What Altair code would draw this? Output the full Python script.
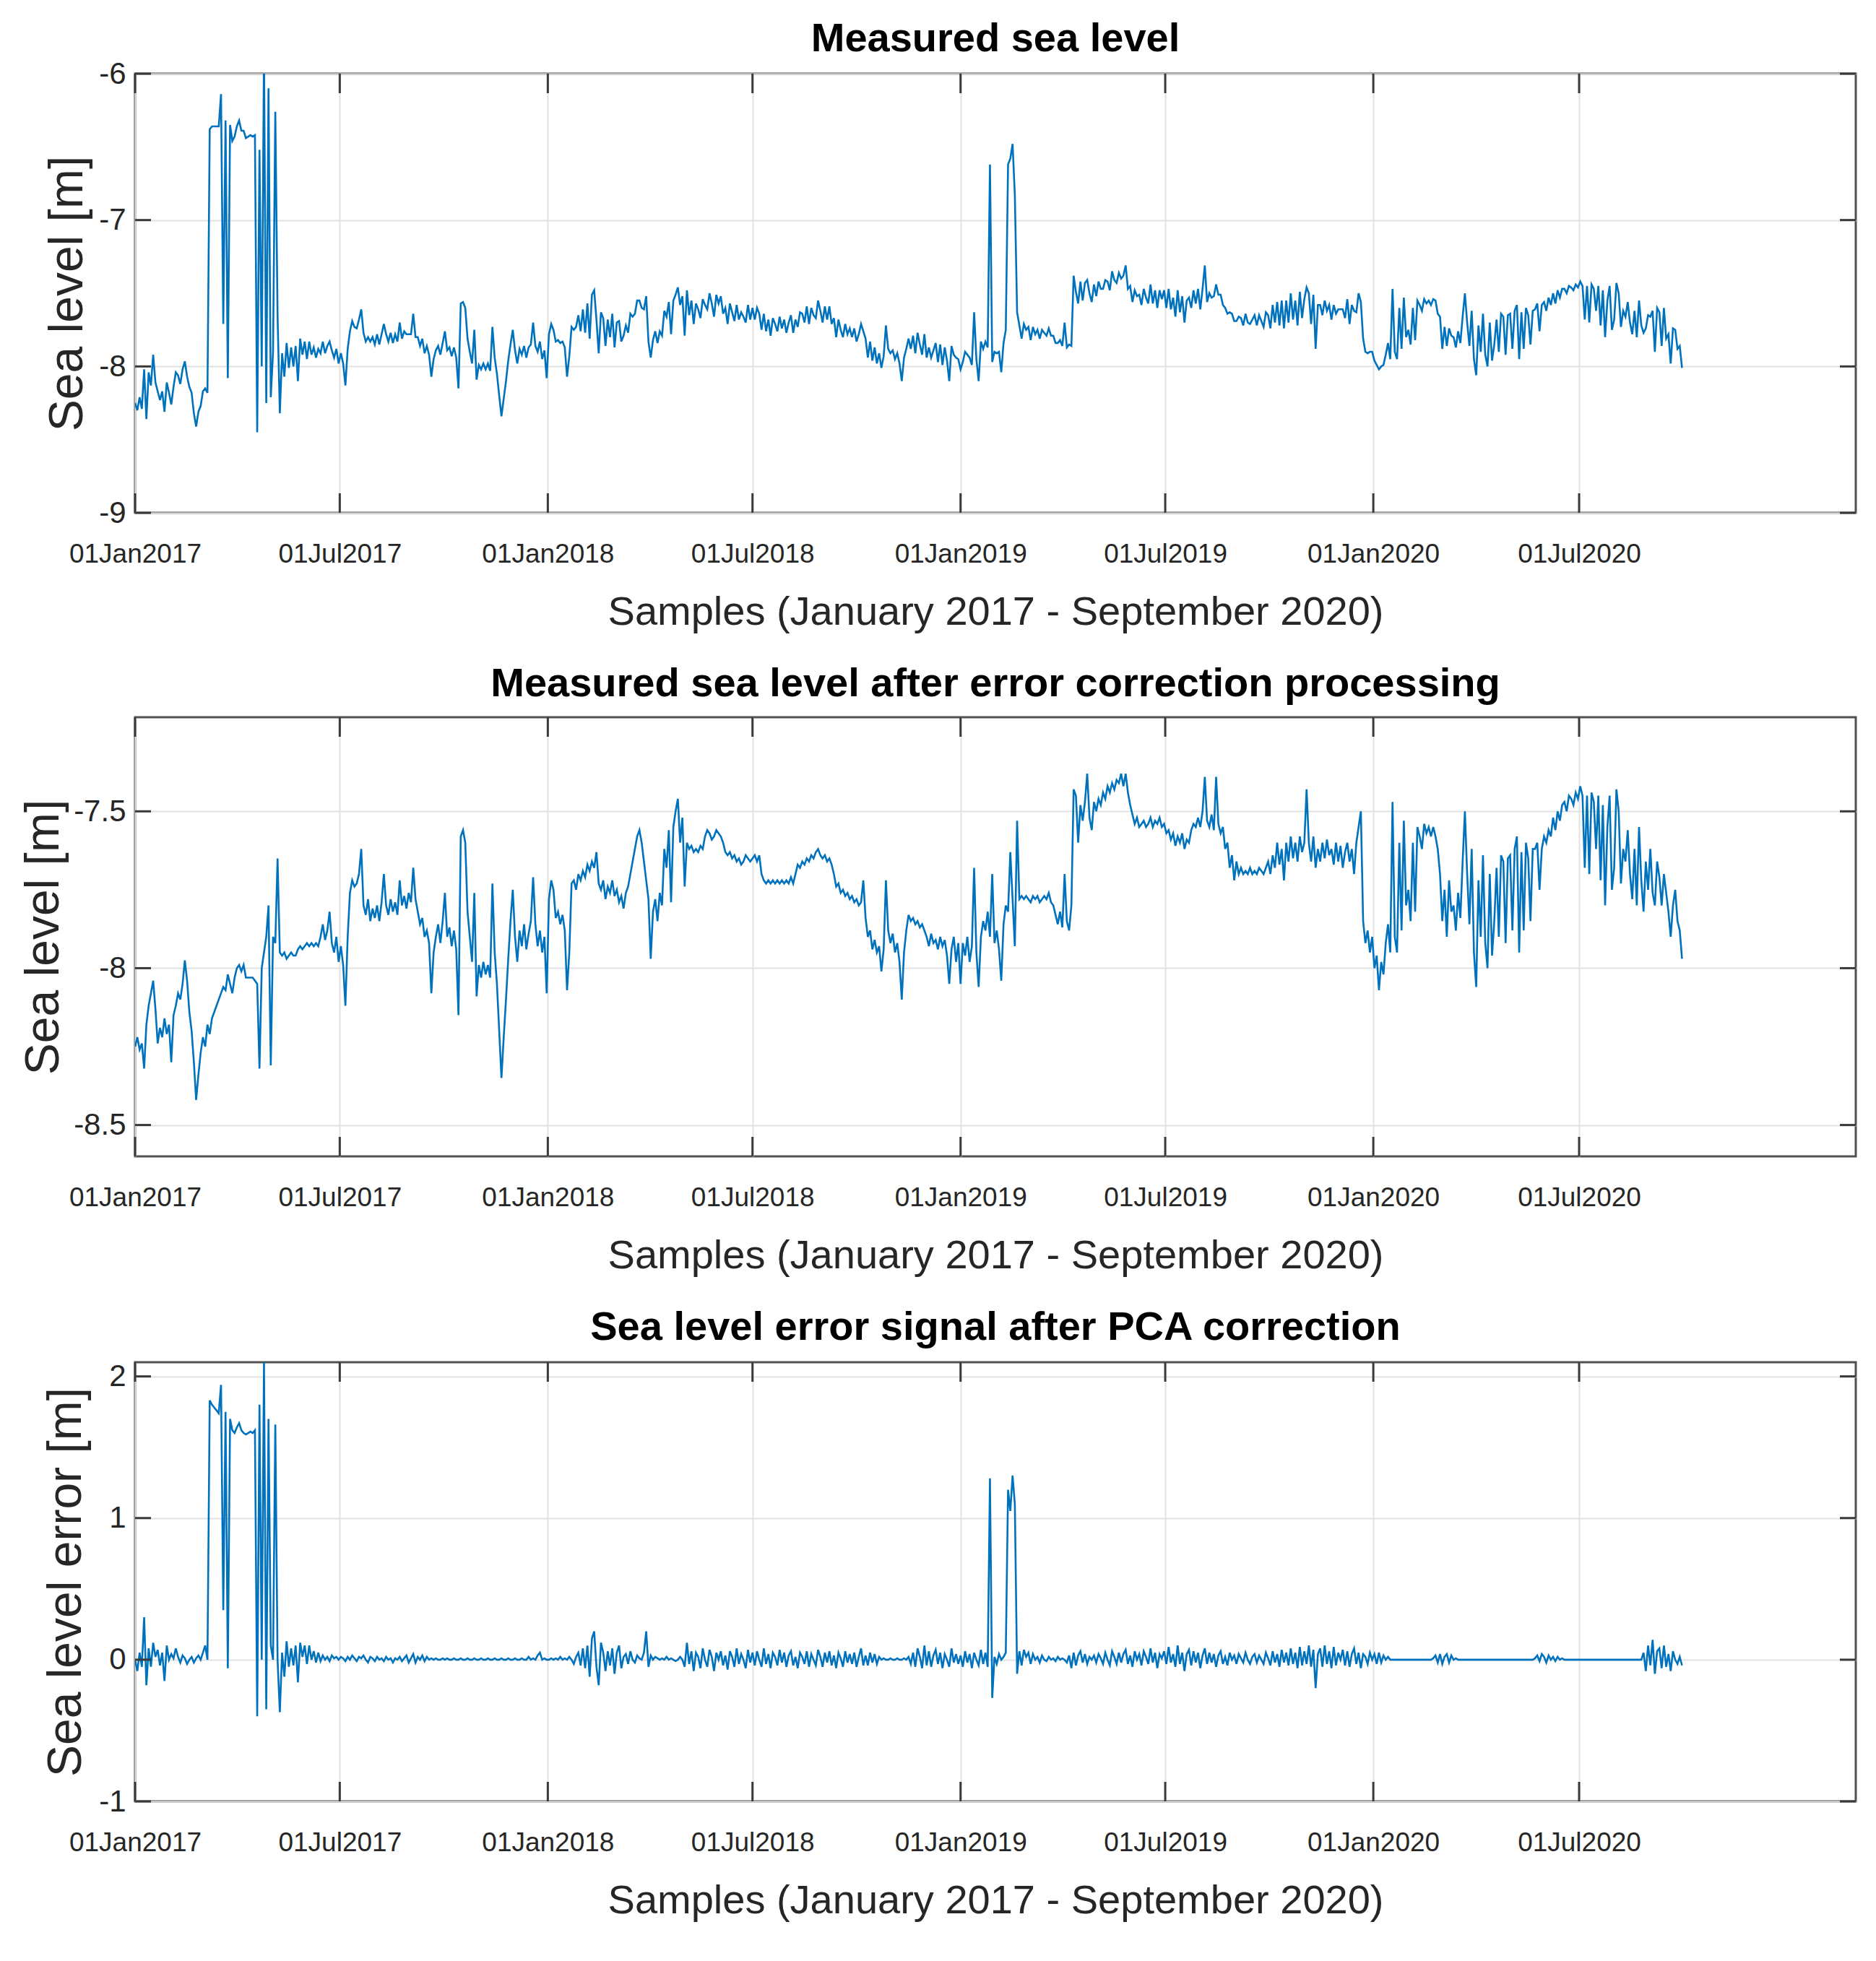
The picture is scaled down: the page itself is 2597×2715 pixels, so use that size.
import altair as alt
import pandas as pd

# Sea level record sampled every two days from 1 Jan 2017 to end of September 2020.
FIRST_DAY = "2017-01-01"
SAMPLE_STEP = "2D"

# Sea level after error correction processing [m]
corrected_2017 = [
    -8.25, -8.22, -8.26, -8.24, -8.32, -8.18, -8.12, -8.08, -8.04, -8.13,
    -8.24, -8.19, -8.22, -8.16, -8.21, -8.18, -8.30, -8.15, -8.12, -8.08,
    -8.10, -8.05, -7.975, -8.04, -8.14, -8.20, -8.30, -8.42, -8.34, -8.27,
    -8.22, -8.25, -8.18, -8.21, -8.16, -8.14, -8.12, -8.10, -8.08, -8.06,
    -8.07, -8.02, -8.05, -8.08, -8.03, -8.00, -7.99, -8.01, -7.99, -8.03,
    -8.03, -8.03, -8.03, -8.04, -8.05, -8.32, -8.00, -7.95, -7.90, -7.80,
    -8.31, -7.90, -7.92, -7.65, -7.95, -7.96, -7.95, -7.97, -7.96, -7.95,
    -7.96, -7.96, -7.94, -7.93, -7.94, -7.93, -7.92, -7.93, -7.92, -7.93,
    -7.92, -7.93, -7.90, -7.86, -7.91, -7.88, -7.82, -7.92, -7.95, -7.90,
    -7.98, -7.93, -7.99, -8.12, -7.90, -7.76, -7.72, -7.74, -7.73, -7.70,
    -7.62, -7.80, -7.83, -7.78, -7.85, -7.81, -7.84, -7.80, -7.85, -7.79,
    -7.70, -7.80, -7.83, -7.78, -7.82, -7.79, -7.83, -7.72, -7.80, -7.77,
    -7.81, -7.76, -7.79, -7.68, -7.78, -7.82, -7.86, -7.84, -7.90, -7.88,
    -7.92, -8.08, -7.95, -7.90, -7.86, -7.92, -7.85, -7.76, -7.90, -7.87,
    -7.93, -7.88, -7.94, -8.15, -7.58, -7.56, -7.60, -7.82, -7.90, -7.98,
    -7.76, -8.09, -7.99, -8.03, -7.98, -8.02, -7.99, -8.03, -7.73, -7.95,
    -8.05, -8.20, -8.35, -8.22, -8.10, -7.97, -7.85, -7.75, -7.90, -7.98,
    -7.88, -7.93, -7.86, -7.94, -7.89, -7.85, -7.71, -7.86, -7.93, -7.88,
    -7.95, -7.90, -8.08,
]
corrected_2018 = [
    -7.78, -7.72, -7.75, -7.84, -7.82, -7.86, -7.83, -7.88, -8.07, -7.95,
    -7.73, -7.72, -7.75, -7.70, -7.72, -7.69, -7.71, -7.67, -7.69, -7.66,
    -7.68, -7.63, -7.73, -7.75, -7.72, -7.78, -7.74, -7.76, -7.72, -7.77,
    -7.75, -7.79, -7.77, -7.81, -7.76, -7.74, -7.70, -7.66, -7.62, -7.58,
    -7.56, -7.60, -7.66, -7.72, -7.78, -7.97, -7.82, -7.78, -7.85, -7.76,
    -7.80, -7.62, -7.68, -7.56, -7.79, -7.55, -7.50, -7.46, -7.60, -7.52,
    -7.74, -7.60, -7.62, -7.61, -7.63, -7.62, -7.63, -7.61, -7.62, -7.58,
    -7.56, -7.57, -7.59, -7.58, -7.56, -7.57, -7.58, -7.60, -7.63, -7.64,
    -7.63, -7.65, -7.64, -7.66, -7.65, -7.67, -7.66, -7.64, -7.65, -7.66,
    -7.65, -7.64, -7.66, -7.64, -7.70, -7.72, -7.73, -7.72, -7.73, -7.72,
    -7.73, -7.72, -7.73, -7.72, -7.73, -7.72, -7.73, -7.71, -7.73, -7.70,
    -7.67, -7.68, -7.66, -7.67, -7.65, -7.66, -7.64, -7.65, -7.63, -7.62,
    -7.64, -7.65, -7.64, -7.66, -7.65, -7.67, -7.70, -7.74, -7.73, -7.76,
    -7.75, -7.77, -7.76, -7.78, -7.77, -7.79, -7.78, -7.80, -7.79, -7.72,
    -7.84, -7.90, -7.88, -7.94, -7.91, -7.95, -7.93, -8.01, -7.94, -7.72,
    -7.88, -7.92, -7.89, -7.95, -7.92, -7.98, -8.10, -7.95, -7.88, -7.83,
    -7.85, -7.84, -7.86, -7.85, -7.87, -7.86, -7.88, -7.90, -7.93, -7.89,
    -7.92, -7.91, -7.94, -7.90, -7.93, -7.91, -7.96, -8.05, -7.94, -7.90,
    -7.98, -7.92,
]
corrected_2019 = [
    -8.05, -7.92, -7.96, -7.90, -7.98, -7.93, -7.68, -7.95, -8.06, -7.90,
    -7.85, -7.88, -7.82, -7.90, -7.70, -7.92, -7.88, -7.94, -8.04, -7.86,
    -7.80, -7.82, -7.63, -7.78, -7.93, -7.53, -7.78, -7.77, -7.78, -7.77,
    -7.78, -7.79, -7.77, -7.78, -7.77, -7.79, -7.78, -7.77, -7.78, -7.76,
    -7.79, -7.80, -7.83, -7.86, -7.82, -7.87, -7.70, -7.85, -7.88, -7.80,
    -7.43, -7.45, -7.60, -7.48, -7.53, -7.47, -7.38, -7.52, -7.56, -7.47,
    -7.50, -7.46, -7.48, -7.44, -7.46, -7.42, -7.44, -7.41, -7.43, -7.40,
    -7.41, -7.38, -7.42, -7.38, -7.44, -7.48, -7.51, -7.54, -7.52, -7.55,
    -7.54, -7.53, -7.55, -7.54, -7.52, -7.55, -7.53, -7.54, -7.52, -7.55,
    -7.54, -7.57, -7.56, -7.59, -7.57, -7.61, -7.58, -7.60, -7.57, -7.62,
    -7.59, -7.60, -7.56, -7.54, -7.55, -7.52, -7.55, -7.50, -7.39, -7.53,
    -7.55, -7.51, -7.56, -7.39, -7.54, -7.57, -7.55, -7.62, -7.60, -7.68,
    -7.64, -7.72, -7.66, -7.70, -7.68, -7.70, -7.69, -7.70, -7.68, -7.70,
    -7.69, -7.70, -7.68, -7.69, -7.70, -7.68, -7.66, -7.70, -7.64, -7.68,
    -7.60, -7.67, -7.62, -7.72, -7.60, -7.66, -7.58, -7.65, -7.60, -7.66,
    -7.58, -7.63, -7.60, -7.43, -7.60, -7.66, -7.58, -7.68, -7.62, -7.66,
    -7.60, -7.65, -7.59, -7.64, -7.62, -7.67, -7.60, -7.66, -7.61, -7.68,
    -7.63, -7.60, -7.66, -7.62, -7.70, -7.60, -7.55, -7.50, -7.85, -7.92,
    -7.88, -7.95, -7.90,
]
corrected_2020 = [
    -8.00, -7.96, -8.07, -7.98, -8.02, -7.92, -7.86, -7.95, -7.47, -7.90,
    -7.95, -7.60, -7.88, -7.53, -7.80, -7.75, -7.85, -7.60, -7.82, -7.55,
    -7.58, -7.62, -7.54, -7.57, -7.55, -7.58, -7.55, -7.58, -7.62, -7.70,
    -7.85, -7.75, -7.90, -7.72, -7.82, -7.80, -7.88, -7.76, -7.84, -7.66,
    -7.50, -7.70, -7.86, -7.62, -7.95, -8.06, -7.72, -7.90, -7.64, -7.92,
    -8.00, -7.70, -7.96, -7.85, -7.68, -7.90, -7.64, -7.66, -7.92, -7.65,
    -7.64, -7.88, -7.62, -7.58, -7.95, -7.63, -7.88, -7.60, -7.65, -7.85,
    -7.62, -7.62, -7.60, -7.75, -7.62, -7.58, -7.60, -7.56, -7.58, -7.52,
    -7.56, -7.50, -7.53, -7.48, -7.47, -7.50, -7.45, -7.46, -7.48, -7.44,
    -7.46, -7.42, -7.45, -7.68, -7.45, -7.70, -7.44, -7.47, -7.62, -7.45,
    -7.72, -7.48, -7.80, -7.55, -7.45, -7.75, -7.68, -7.43, -7.50, -7.73,
    -7.62, -7.66, -7.56, -7.70, -7.78, -7.62, -7.80, -7.55, -7.72, -7.82,
    -7.66, -7.75, -7.62, -7.76, -7.80, -7.66, -7.71, -7.80, -7.70, -7.76,
    -7.82, -7.90, -7.80, -7.75, -7.85, -7.88, -7.97,
]

# Sea level error signal after PCA correction [m]
error_2017 = [
    0.00, -0.08, 0.05, -0.05, 0.30, -0.18, 0.08, -0.05, 0.12, 0.02,
    0.07, -0.04, 0.05, -0.15, 0.10, 0.00, 0.04, 0.01, 0.08, 0.02,
    -0.02, 0.03, 0.01, -0.03, 0.00, 0.02, -0.02, 0.01, 0.03, 0.00,
    0.05, 0.10, 0.00, 1.83, 1.80, 1.78, 1.76, 1.74, 1.94, 0.35,
    1.75, -0.06, 1.70, 1.62, 1.60, 1.64, 1.67, 1.62, 1.60, 1.59,
    1.60, 1.61, 1.60, 1.62, -0.40, 1.80, 0.00, 2.10, -0.35, 1.70,
    0.10, 0.00, 1.66, 0.00, -0.37, 0.05, -0.12, 0.13, -0.05, 0.08,
    -0.04, 0.10, -0.16, 0.12, 0.02, 0.10, -0.03, 0.10, 0.00, 0.06,
    -0.02, 0.05, -0.01, 0.03, 0.00, 0.02, -0.01, 0.03, 0.01, 0.02,
    0.00, 0.02, 0.01, -0.01, 0.02, 0.00, 0.03, 0.01, -0.01, 0.02,
    0.01, 0.03, 0.00, -0.02, 0.02, 0.01, -0.01, 0.02, 0.00, 0.01,
    -0.01, 0.02, 0.00, 0.01, -0.02, 0.01, 0.00, 0.02, -0.01, 0.01,
    0.03, -0.02, 0.01, 0.04, -0.02, 0.02, 0.00, 0.03, -0.01, 0.02,
    0.00, 0.01, 0.00, 0.01, 0.00, 0.00, 0.01, 0.00, 0.01, 0.00,
    0.00, 0.01, 0.00, 0.00, 0.01, 0.00, 0.00, 0.01, 0.00, 0.00,
    0.01, 0.00, 0.00, 0.01, 0.00, 0.00, 0.01, 0.00, 0.00, 0.01,
    0.00, 0.00, 0.01, 0.00, 0.00, 0.01, 0.00, 0.00, 0.01, 0.00,
    0.00, 0.01, 0.00, 0.00, 0.02, 0.00, 0.01, 0.00, 0.03, 0.05,
    0.00, 0.01, 0.00,
]
error_2018 = [
    0.00, 0.01, 0.00, 0.01, 0.00, 0.02, 0.00, 0.01, 0.00, 0.02,
    0.00, -0.03, 0.02, 0.05, -0.04, 0.08, -0.06, 0.10, -0.12, 0.15,
    0.20, -0.05, -0.18, 0.12, 0.05, -0.08, 0.06, -0.04, 0.08, -0.10,
    0.05, 0.10, -0.06, 0.02, 0.04, -0.03, 0.06, 0.00, -0.02, 0.03,
    0.01, 0.00, 0.05, 0.20, -0.05, 0.03, 0.00, 0.02, 0.01, 0.00,
    0.01, 0.00, 0.02, 0.00, 0.01, 0.00, -0.01, 0.00, 0.02, 0.00,
    -0.05, 0.12, -0.03, 0.06, -0.08, 0.05, 0.02, -0.06, 0.08, 0.00,
    -0.05, 0.07, 0.02, -0.08, 0.05, 0.00, 0.06, -0.04, 0.03, -0.07,
    0.06, 0.02, -0.05, 0.08, -0.03, 0.04, 0.00, -0.06, 0.07, -0.02,
    0.05, -0.04, 0.06, 0.00, -0.05, 0.08, -0.03, 0.04, -0.06, 0.05,
    0.02, -0.04, 0.07, -0.02, 0.05, -0.05, 0.03, 0.06, -0.04, 0.02,
    -0.06, 0.05, 0.02, -0.03, 0.06, -0.05, 0.04, 0.00, -0.04, 0.07,
    0.02, -0.05, 0.05, -0.02, 0.06, -0.04, 0.03, -0.06, 0.05, 0.01,
    -0.05, 0.06, -0.02, 0.04, -0.03, 0.05, -0.05, 0.02, 0.08, -0.04,
    0.03, -0.04, 0.05, -0.02, 0.04, -0.03, 0.02, 0.00, 0.01, 0.00,
    0.00, 0.01, 0.00, 0.00, 0.01, 0.00, 0.00, 0.01, 0.00, 0.02,
    -0.03, 0.05, -0.05, 0.08, 0.02, -0.06, 0.10, -0.04, 0.06, -0.05,
    0.03, 0.07, -0.03, 0.05, -0.06, 0.04, 0.00, -0.05, 0.08, -0.02,
    0.04, -0.03,
]
error_2019 = [
    0.03, -0.05, 0.06, -0.02, 0.04, -0.06, 0.05, 0.00, -0.04, 0.07,
    -0.03, 0.05, -0.05, 1.28, -0.27, 0.02, -0.03, 0.04, 0.00, 0.02,
    0.05, 1.20, 1.05, 1.30, 1.10, -0.10, 0.06, -0.04, 0.07, 0.02,
    0.05, -0.03, 0.04, 0.00, 0.02, -0.02, 0.03, 0.00, -0.01, 0.02,
    0.00, 0.01, -0.01, 0.02, 0.00, 0.01, 0.00, -0.02, 0.03, -0.06,
    0.05, -0.04, 0.03, 0.06, -0.02, 0.04, -0.03, 0.02, 0.00, 0.03,
    -0.02, 0.04, 0.01, -0.03, 0.05, 0.00, -0.04, 0.06, 0.02, -0.03,
    0.05, -0.02, 0.04, 0.07, -0.03, 0.03, -0.05, 0.06, 0.00, 0.04,
    -0.04, 0.06, 0.02, -0.03, 0.08, -0.02, 0.05, -0.06, 0.04, 0.01,
    0.06, -0.03, 0.09, -0.02, 0.04, -0.05, 0.10, -0.03, 0.05, -0.08,
    0.04, 0.07, -0.04, 0.06, -0.02, 0.05, -0.06, 0.03, 0.08, -0.03,
    0.05, -0.02, 0.04, -0.05, 0.03, 0.06, -0.03, 0.02, -0.04, 0.05,
    0.00, 0.03, -0.03, 0.04, 0.01, -0.02, 0.05, 0.00, -0.03, 0.02,
    0.04, -0.02, 0.03, 0.00, -0.03, 0.05, 0.01, -0.04, 0.06, -0.02,
    0.04, -0.05, 0.07, -0.02, 0.05, -0.04, 0.08, -0.03, 0.05, -0.06,
    0.09, -0.04, 0.06, -0.03, 0.10, -0.05, 0.07, -0.20, 0.04, 0.08,
    -0.05, 0.10, -0.03, 0.06, -0.06, 0.09, -0.04, 0.05, 0.00, 0.07,
    -0.04, 0.06, -0.05, 0.04, 0.08, -0.03, 0.05, -0.06, 0.04, 0.02,
    -0.03, 0.05, 0.00,
]
error_2020 = [
    0.04, -0.03, 0.05, -0.02, 0.03, 0.00, 0.02, 0.00, 0.00, 0.00,
    0.00, 0.00, 0.00, 0.00, 0.00, 0.00, 0.00, 0.00, 0.00, 0.00,
    0.00, 0.00, 0.00, 0.00, 0.00, 0.00, 0.01, 0.03, -0.02, 0.04,
    -0.03, 0.02, 0.04, -0.02, 0.03, 0.00, 0.01, 0.00, 0.00, 0.00,
    0.00, 0.00, 0.00, 0.00, 0.00, 0.00, 0.00, 0.00, 0.00, 0.00,
    0.00, 0.00, 0.00, 0.00, 0.00, 0.00, 0.00, 0.00, 0.00, 0.00,
    0.00, 0.00, 0.00, 0.00, 0.00, 0.00, 0.00, 0.00, 0.00, 0.00,
    0.00, 0.01, 0.03, -0.01, 0.04, 0.02, -0.02, 0.03, 0.00, 0.02,
    -0.01, 0.02, 0.00, 0.01, 0.00, 0.00, 0.00, 0.00, 0.00, 0.00,
    0.00, 0.00, 0.00, 0.00, 0.00, 0.00, 0.00, 0.00, 0.00, 0.00,
    0.00, 0.00, 0.00, 0.00, 0.00, 0.00, 0.00, 0.00, 0.00, 0.00,
    0.00, 0.00, 0.00, 0.00, 0.00, 0.00, 0.00, 0.00, 0.00, 0.05,
    -0.08, 0.10, -0.04, 0.14, -0.10, 0.06, 0.08, -0.06, 0.10, -0.05,
    0.04, -0.08, 0.06, 0.00, -0.03, 0.02, -0.04,
]

# Axis ticks
x_tick_months = [(2017, 1), (2017, 7), (2018, 1), (2018, 7),
                 (2019, 1), (2019, 7), (2020, 1), (2020, 7)]
measured_ticks = [-6, -7, -8, -9]
corrected_ticks = [-7.5, -8, -8.5]
error_ticks = [2, 1, 0, -1]

# Texts
panel_titles = [
    "Measured sea level",
    "Measured sea level after error correction processing",
    "Sea level error signal after PCA correction",
]
y_titles = ["Sea level [m]", "Sea level [m]", "Sea level error [m]"]
x_title = "Samples (January 2017 - September 2020)"

# Measured level = corrected level + error signal
corrected = corrected_2017 + corrected_2018 + corrected_2019 + corrected_2020
error = error_2017 + error_2018 + error_2019 + error_2020
measured = [round(c + e, 3) for c, e in zip(corrected, error)]

series = pd.DataFrame({
    "date": pd.date_range(FIRST_DAY, periods=len(corrected), freq=SAMPLE_STEP),
    "measured": measured,
    "corrected": corrected,
    "error": error,
})
x_ticks = pd.DataFrame({"date": pd.to_datetime([f"{y}-{m:02d}-01" for y, m in x_tick_months])})

# Style
W, H = 2382, 608
BLUE = "#0072BD"
GRID = "#e2e2e2"
FRAME = "#505050"
TICK = "#3a3a3a"
TEXT = "#262626"
FONT = "Liberation Sans, Arial, sans-serif"

x_domain = [alt.DateTime(year=2017, month=1, date=1),
            alt.DateTime(year=2021, month=3, date=2, hours=16)]


def panel(field, title, y_title, y_domain, y_ticks, title_x, title_offset):
    x_axis = alt.Axis(
        values=[alt.DateTime(year=y, month=m, date=1) for y, m in x_tick_months],
        format="%d%b%Y", grid=True, gridColor=GRID, gridWidth=2,
        domain=False, ticks=False, labelLimit=0, labelFlush=False,
        labelFont=FONT, labelFontSize=37, labelColor=TEXT,
        labelBaseline="alphabetic", labelPadding=68,
        title=x_title, titleFont=FONT, titleFontSize=56,
        titleFontWeight="normal", titleColor=TEXT,
        titleBaseline="alphabetic", titleY=154,
    )
    y_axis = alt.Axis(
        values=y_ticks, grid=True, gridColor=GRID, gridWidth=2,
        domain=False, ticks=False, labelFlush=False,
        labelFont=FONT, labelFontSize=42, labelColor=TEXT, labelPadding=13,
        labelExpr="'' + datum.value",
        title=y_title, titleFont=FONT, titleFontSize=66,
        titleFontWeight="normal", titleColor=TEXT,
        titleX=title_x, titleY=H / 2, titleAngle=270,
        titleBaseline="bottom", titleAlign="center",
    )
    x_enc = alt.X("date:T", scale=alt.Scale(domain=x_domain), axis=x_axis)
    y_enc = alt.Y(f"{field}:Q", scale=alt.Scale(domain=y_domain, nice=False, zero=False),
                  axis=y_axis)

    line = alt.Chart(series).mark_line(
        color=BLUE, strokeWidth=2.6, clip=True
    ).encode(x=x_enc, y=y_enc)

    # inward tick marks on all four sides of the box
    x_top = alt.Chart(x_ticks).mark_rule(color=TICK, strokeWidth=3).encode(
        x=x_enc, y=alt.value(0), y2=alt.value(27))
    x_bottom = alt.Chart(x_ticks).mark_rule(color=TICK, strokeWidth=3).encode(
        x=x_enc, y=alt.value(H - 27), y2=alt.value(H))
    y_tick_frame = pd.DataFrame({field: y_ticks})
    y_left = alt.Chart(y_tick_frame).mark_rule(color=TICK, strokeWidth=3).encode(
        y=y_enc, x=alt.value(0), x2=alt.value(22))
    y_right = alt.Chart(y_tick_frame).mark_rule(color=TICK, strokeWidth=3).encode(
        y=y_enc, x=alt.value(W - 22), x2=alt.value(W))

    return alt.layer(line, x_top, x_bottom, y_left, y_right).properties(
        width=W, height=H,
        title=alt.TitleParams(
            text=title, font=FONT, fontSize=56, fontWeight="bold",
            color="black", anchor="middle", frame="group",
            baseline="alphabetic", offset=title_offset,
        ),
    )


top = panel("measured", panel_titles[0], y_titles[0], [-9, -6], measured_ticks, -60, -46)
middle = panel("corrected", panel_titles[1], y_titles[1], [-8.6, -7.2], corrected_ticks, -93, -28)
bottom = panel("error", panel_titles[2], y_titles[2], [-1, 2.1], error_ticks, -62, -26)

chart = alt.vconcat(top, middle, bottom, spacing=40).properties(
    padding={"left": 25, "top": 24, "right": 0, "bottom": 0},
    background="white",
).configure_view(
    stroke=FRAME, strokeWidth=3,
)

chart.save("out.html", embed_options={"renderer": "svg", "actions": False})
